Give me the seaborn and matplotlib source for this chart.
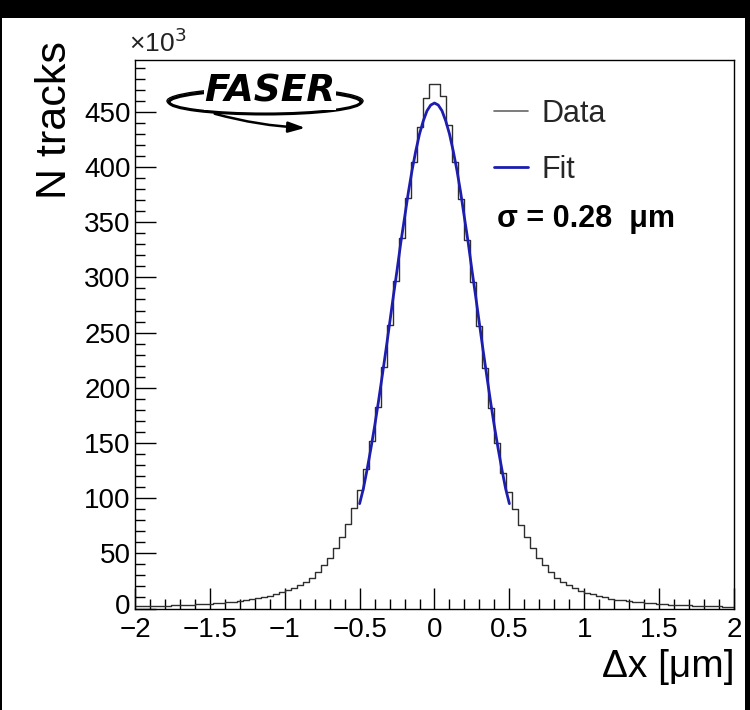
import matplotlib
matplotlib.use("Agg")
import numpy as np
import pandas as pd
import seaborn as sns
import matplotlib.pyplot as plt
from matplotlib.lines import Line2D
from matplotlib.patches import Ellipse, Rectangle, FancyArrowPatch
from matplotlib.ticker import MultipleLocator
from matplotlib.transforms import ScaledTranslation

# ---------------- data (counts in units of 10^3) ----------------
bin_lo, bin_hi, bin_w = -2.0, 2.0, 0.04
counts_left = [2.3, 2.3, 2.4, 2.5, 2.6, 2.7, 2.9, 3.1, 3.3, 3.5,
               3.8, 4.1, 4.4, 4.8, 5.2, 5.7, 6.2, 6.8, 7.5, 8.3,
               9.2, 10.3, 11.5, 13.0, 14.5, 16.5, 18.5, 21.0, 24.0, 28.0,
               33.0, 39.0, 46.0, 55.0, 65.0, 77.0, 91.0, 107.0, 126.0, 152.0,
               183.0, 219.0, 257.0, 297.0, 336.0, 372.0, 405.0, 436.0, 463.0, 475.0]
counts_right = [475.0, 464.0, 438.0, 405.0, 371.0, 334.0, 296.0, 256.0, 218.0, 182.0,
                150.0, 123.0, 106.0, 90.0, 76.0, 65.0, 55.0, 46.0, 39.0, 33.0,
                28.0, 24.0, 21.0, 18.3, 16.2, 14.3, 12.8, 11.3, 10.1, 9.0,
                8.1, 7.3, 6.6, 6.0, 5.5, 5.0, 4.6, 4.2, 3.9, 3.6,
                3.3, 3.0, 2.8, 2.6, 2.4, 2.2, 2.0, 1.9, 1.8, 1.7]
counts = counts_left + counts_right

fit_x = [-0.5, -0.475, -0.45, -0.425, -0.4, -0.375, -0.35, -0.325, -0.3, -0.275,
         -0.25, -0.225, -0.2, -0.175, -0.15, -0.125, -0.1, -0.075, -0.05, -0.025,
         0.0, 0.025, 0.05, 0.075, 0.1, 0.125, 0.15, 0.175, 0.2, 0.225,
         0.25, 0.275, 0.3, 0.325, 0.35, 0.375, 0.4, 0.425, 0.45, 0.475, 0.5]
fit_y = [95.0, 108.6, 126.0, 144.8, 165.0, 186.8, 210.0, 233.5, 258.0, 282.8,
         306.6, 331.6, 354.0, 376.7, 397.0, 414.6, 430.0, 441.8, 451.0, 456.2,
         458.0, 456.2, 451.0, 441.8, 430.0, 414.6, 397.0, 376.7, 354.0, 331.6,
         306.6, 282.8, 258.0, 233.5, 210.0, 186.8, 165.0, 144.8, 126.0, 108.6, 95.0]

x_ticks = [-2, -1.5, -1, -0.5, 0, 0.5, 1, 1.5, 2]
x_tick_labels = ["\u22122", "\u22121.5", "\u22121", "\u22120.5", "0", "0.5", "1", "1.5", "2"]
y_ticks = [0, 50, 100, 150, 200, 250, 300, 350, 400, 450]
y_tick_labels = ["0", "50", "100", "150", "200", "250", "300", "350", "400", "450"]

legend_labels = ["Data", "Fit"]
sigma_text = "\u03c3 = 0.28  \u03bcm"
x_title = "\u0394x [\u03bcm]"
y_title = "N tracks"

# ---------------- build frame ----------------
n_bins = len(counts)
edges = np.linspace(bin_lo, bin_hi, n_bins + 1)
centers = 0.5 * (edges[:-1] + edges[1:])
df = pd.DataFrame({"dx": centers, "n": counts})
fit_df = pd.DataFrame({"x": fit_x, "y": fit_y})

sns.set_theme(style="white")
plt.rcParams["font.family"] = ["Liberation Sans", "DejaVu Sans"]

W, H = 750, 710
fig = plt.figure(figsize=(7.5, 7.1), dpi=100)
fig.patch.set_facecolor("white")

def fx(px):
    return px / W

def fy(py):
    return 1 - py / H

ax_l, ax_r, ax_t, ax_b = 135, 734, 60, 608.5
ax = fig.add_axes([fx(ax_l), fy(ax_b), (ax_r - ax_l) / W, (ax_b - ax_t) / H])

data_col = "#2e2e2e"
fit_col = "#1d1db0"

sns.histplot(data=df, x="dx", weights="n", binwidth=bin_w, binrange=(bin_lo, bin_hi),
             element="step", fill=False, color=data_col, linewidth=1.0, ax=ax)
sns.lineplot(data=fit_df, x="x", y="y", color=fit_col, linewidth=2.0, ax=ax)

ax.set_xlim(-2, 2)
ax.set_ylim(0, 497)
ax.set_xticks(x_ticks)
ax.set_xticklabels(x_tick_labels)
ax.set_yticks(y_ticks)
ax.set_yticklabels(y_tick_labels)
ax.xaxis.set_minor_locator(MultipleLocator(0.1))
ax.yaxis.set_minor_locator(MultipleLocator(10))
ax.tick_params(which="major", direction="in", length=15, width=1.0, color="black",
               left=True, bottom=True, top=False, right=False, labelsize=20,
               labelcolor="black", pad=3)
ax.tick_params(which="minor", direction="in", length=7, width=1.0, color="black",
               left=True, bottom=True, top=False, right=False)
ax.tick_params(axis="x", pad=6)
ax.set_xlabel("")
ax.set_ylabel("")
for s in ax.spines.values():
    s.set_color("black")
    s.set_linewidth(1.0)
    s.set_visible(True)
ax.grid(False)

# lift the "0" label slightly, as in the reference
lab0 = ax.get_yticklabels()[0]
lab0.set_transform(lab0.get_transform() + ScaledTranslation(0, 5 / 100, fig.dpi_scale_trans))

# axis titles and exponent
fig.text(fx(735), fy(667), x_title, ha="right", va="center", fontsize=28, color="black")
fig.text(fx(55), fy(41), y_title, ha="center", va="top", rotation=90, fontsize=31, color="black")
fig.text(fx(129), fy(57), "\u00d710$^{3}$", ha="left", va="bottom", fontsize=19, color="#222222")

# legend
handles = [Line2D([], [], color="#666666", lw=1.2), Line2D([], [], color=fit_col, lw=2.0)]
ax.legend(handles, legend_labels, loc="upper left",
          bbox_to_anchor=((500 - ax_l) / (ax_r - ax_l) - 0.01, (ax_b - 99) / (ax_b - ax_t)),
          frameon=False, fontsize=22, handlelength=1.1, handletextpad=0.45,
          labelspacing=0.85, borderpad=0.0, borderaxespad=0.0)
ax.text((497 - ax_l) / (ax_r - ax_l), (ax_b - 219) / (ax_b - ax_t), sigma_text,
        transform=ax.transAxes, ha="left", va="center", fontsize=22,
        fontweight="bold", color="black")

# FASER logo (drawn)
ell = Ellipse((fx(265), fy(101)), 196 / W, 26 / H, transform=fig.transFigure,
              fill=False, edgecolor="black", linewidth=1.0, zorder=5)
fig.add_artist(ell)
ell2 = Ellipse((fx(265), fy(102)), 192 / W, 24 / H, transform=fig.transFigure,
               fill=False, edgecolor="black", linewidth=2.2, zorder=5)
fig.add_artist(ell2)
fig.text(fx(270), fy(92), "FASER", ha="center", va="center", fontsize=27,
         fontweight="heavy", style="italic", family="DejaVu Sans", color="black",
         zorder=6, bbox=dict(facecolor="white", edgecolor="none", pad=0.3))
arr = FancyArrowPatch((fx(212), fy(113)), (fx(308), fy(128)), transform=fig.transFigure,
                      arrowstyle="-|>,head_length=5,head_width=1.6",
                      connectionstyle="arc3,rad=0.06", color="black", lw=1.8,
                      mutation_scale=2, zorder=5)
fig.add_artist(arr)

# black frame bands of the screenshot
fig.add_artist(Rectangle((0, fy(18)), 1, 18 / H, transform=fig.transFigure,
                         facecolor="black", edgecolor="none", zorder=10))
fig.add_artist(Rectangle((0, 0), 2 / W, 1, transform=fig.transFigure,
                         facecolor="black", edgecolor="none", zorder=10))
fig.add_artist(Rectangle((1 - 5 / W, 0), 5 / W, 1, transform=fig.transFigure,
                         facecolor="black", edgecolor="none", zorder=10))

fig.savefig("out.png", dpi=100, facecolor="white")
